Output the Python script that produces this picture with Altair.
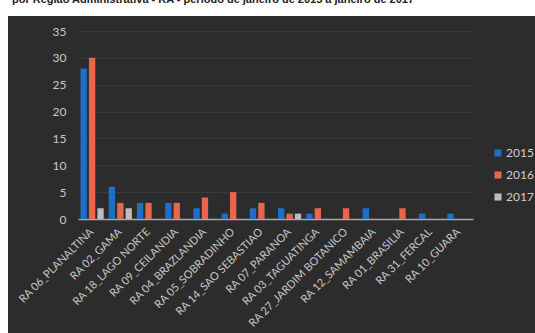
import altair as alt
import pandas as pd

categories = [
    "RA 06_PLANALTINA", "RA 02_GAMA", "RA 18_LAGO NORTE", "RA 09_CEILANDIA",
    "RA 04_BRAZLANDIA", "RA 05_SOBRADINHO", "RA 14_SAO SEBASTIAO", "RA 07_PARANOA",
    "RA 03_TAGUATINGA", "RA 27_JARDIM BOTANICO", "RA 12_SAMAMBAIA", "RA 01_BRASILIA",
    "RA 31_FERCAL", "RA 10_GUARA",
]
years = ["2015", "2016", "2017"]
v2015 = [28, 6, 3, 3, 2, 1, 2, 2, 1, 0, 2, 0, 1, 1]
v2016 = [30, 3, 3, 3, 4, 5, 3, 1, 2, 2, 0, 2, 0, 0]
v2017 = [2, 2, 0, 0, 0, 0, 0, 1, 0, 0, 0, 0, 0, 0]
y_ticks = [0, 5, 10, 15, 20, 25, 30, 35]
title_text = "por Região Administrativa - RA - período de janeiro de 2015 a janeiro de 2017"
colors = ["#1f6fc6", "#e8664c", "#bdbdbd"]

rows = []
for yr, vals in zip(years, [v2015, v2016, v2017]):
    for c, v in zip(categories, vals):
        rows.append({"ra": c, "year": yr, "value": v})
df = pd.DataFrame(rows)

W, H = 395, 188
PL, PT = 78, 31

white_top = alt.Chart(pd.DataFrame({"a": [0]})).mark_rect(color="white").encode(
    x=alt.value(0 - PL), x2=alt.value(535 - PL + 5),
    y=alt.value(0 - PT - 5), y2=alt.value(16 - PT),
)
white_left = alt.Chart(pd.DataFrame({"a": [0]})).mark_rect(color="white").encode(
    x=alt.value(0 - PL - 5), x2=alt.value(8 - PL),
    y=alt.value(0 - PT - 5), y2=alt.value(333 - PT + 5),
)

title = alt.Chart(pd.DataFrame({"t": [title_text]})).mark_text(
    align="left", baseline="middle", font="Liberation Sans", fontSize=11,
    fontWeight="bold", color="#222222",
).encode(x=alt.value(12 - PL), y=alt.value(0 - PT), text="t:N")

bars = alt.Chart(df).mark_bar().encode(
    x=alt.X("ra:N", sort=categories, title=None,
            scale=alt.Scale(paddingInner=0.18, paddingOuter=0.09),
            axis=alt.Axis(labelAngle=-45, labelAlign="right", labelBaseline="middle",
                          labelFont="Lato", labelFontSize=11, labelColor="#c8c8c8",
                          labelPadding=11, ticks=False, domainColor="#a8a8a8",
                          domainWidth=1.5, labelOverlap=False, labelLimit=0)),
    xOffset=alt.XOffset("year:N", sort=years, scale=alt.Scale(paddingInner=0.25)),
    y=alt.Y("value:Q", title=None,
            scale=alt.Scale(domain=[0, 35], nice=False),
            axis=alt.Axis(values=y_ticks, labelFont="Lato", labelFontSize=12,
                          labelColor="#c8c8c8", labelPadding=12, ticks=False,
                          domain=False, grid=True, gridColor="#3a3a3a", gridWidth=1)),
    color=alt.Color("year:N", sort=years, title=None,
                    scale=alt.Scale(domain=years, range=colors),
                    legend=alt.Legend(orient="none", legendX=414, legendY=116,
                                      symbolType="square", symbolSize=50,
                                      symbolStrokeWidth=0, labelFont="Lato",
                                      labelFontSize=12, labelColor="#cfcfcf",
                                      rowPadding=10, labelOffset=2)),
)

chart = alt.layer(bars, white_top, white_left, title).properties(
    width=W, height=H,
    autosize=alt.AutoSizeParams(type="none"),
    padding={"left": PL, "top": PT, "right": 535 - PL - W, "bottom": 333 - PT - H},
    background="#2c2c2c",
).configure_view(stroke=None)

chart.save("out.html", embed_options={"renderer": "svg", "actions": False})
